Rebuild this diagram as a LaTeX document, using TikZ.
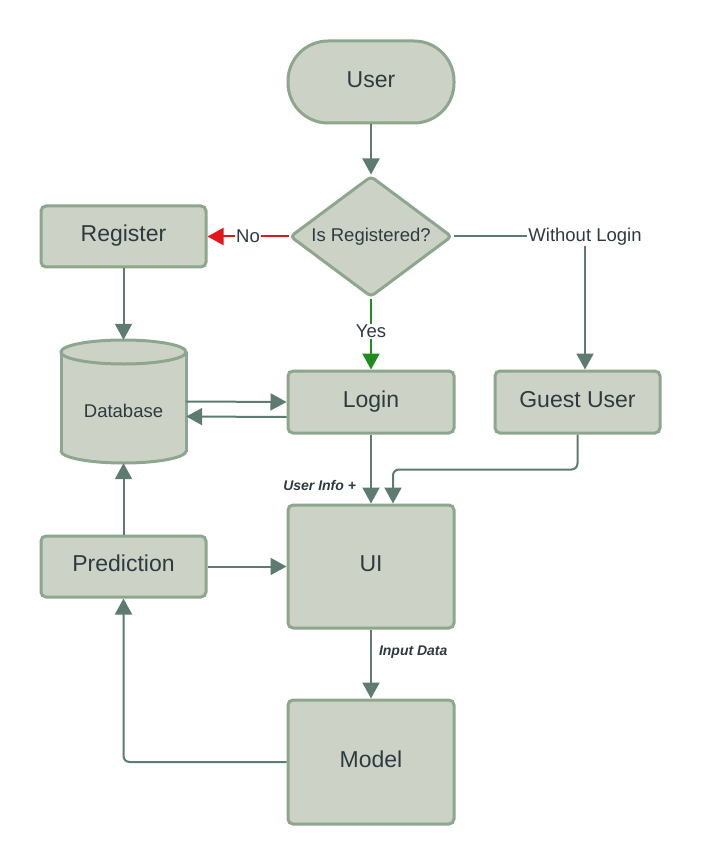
\documentclass[tikz,border=0pt]{standalone}
\usepackage{fontspec}
\setmainfont{Liberation Sans}
\usetikzlibrary{arrows.meta,shapes.geometric,calc}
\definecolor{boxfill}{HTML}{CCD3C6}
\definecolor{boxline}{HTML}{8DA68D}
\definecolor{arrowc}{HTML}{5D7B70}
\definecolor{txt}{HTML}{2E3A40}
\definecolor{noRed}{HTML}{E3171B}
\definecolor{yesGreen}{HTML}{1E8C1E}
\tikzset{
 box/.style={draw=boxline, fill=boxfill, line width=3pt, rounded corners=5pt, text=txt, font=\fontsize{23}{27}\selectfont, inner sep=0pt, text height=16.5pt, text depth=6pt},
 conn/.style={draw=arrowc, line width=2pt, -{Triangle[width=17pt,length=16pt]}},
 lbl/.style={fill=white, text=txt, font=\fontsize{18.5}{22}\selectfont, inner sep=1pt},
 ilbl/.style={text=txt, font=\fontsize{14}{17}\selectfont\bfseries\itshape, inner sep=1pt},
}
\begin{document}
\begin{tikzpicture}[x=1pt,y=-1pt]
\useasboundingbox[fill=white] (0,0) rectangle (702,866);
% nodes
\node[box, rounded corners=40pt, minimum width=166pt, minimum height=82pt] (user) at (371,82) {User};
\node[box, diamond, rounded corners=4pt, aspect=1.34, minimum width=162pt, minimum height=121pt, font=\fontsize{18.5}{22}\selectfont, text height=13.3pt, text depth=3pt] (dia) at (371,236.5) {Is Registered?};
\node[box, minimum width=165pt, minimum height=61pt] (reg) at (123.5,236.5) {Register};
\node[box, minimum width=166pt, minimum height=62pt] (login) at (371,402) {Login};
\node[box, minimum width=165pt, minimum height=62pt] (guest) at (577.5,402) {Guest User};
\node[box, minimum width=166pt, minimum height=123pt] (ui) at (371,566.5) {UI};
\node[box, minimum width=165pt, minimum height=61pt] (pred) at (123.5,566.5) {Prediction};
\node[box, minimum width=166pt, minimum height=124pt] (model) at (371,762) {Model};
% database cylinder
\fill[boxfill] (61,352) rectangle (186,451);
\fill[boxfill] (123.5,451) ellipse [x radius=62.5, y radius=12];
\begin{scope}
\clip (40,451) rectangle (210,480);
\draw[boxline, line width=3pt] (123.5,451) ellipse [x radius=62.5, y radius=12];
\end{scope}
\draw[boxline, line width=3pt] (61,352) -- (61,451.5) (186,352) -- (186,451.5);
\draw[boxline, fill=boxfill, line width=3pt] (123.5,352) ellipse [x radius=62.5, y radius=12];
\node[minimum width=125pt, minimum height=123pt, inner sep=0pt] (db) at (123.5,401.5) {};
\node[text=txt, font=\fontsize{18.5}{22}\selectfont, inner sep=0pt, text height=13.3pt, text depth=0pt] (dbtext) at (123.5,411) {Database};
% connectors
\draw[conn] (user) -- (dia);
\draw[conn, draw=noRed] (dia.west) -- node[lbl]{No} (reg.east);
\draw[conn] (dia.east) -| node[lbl, pos=0.5]{Without Login} ([xshift=7.5pt]guest.north);
\draw[conn, draw=yesGreen] (dia.south) -- node[lbl, pos=0.46]{Yes} (login.north);
\draw[conn] (reg.south) -- (db.north);
\draw[conn] (db.east) -- (login.west);
\draw[conn] ([yshift=-15pt]login.west) -- ([yshift=-15pt]db.east);
\draw[conn] (login.south) -- node[ilbl, pos=0.74, anchor=east, xshift=-13pt]{User Info +} (ui.north);
\draw[conn, rounded corners=6pt] (guest.south) -- ++(0,35) -| ([xshift=22pt]ui.north);
\draw[conn] (pred.east) -- (ui.west);
\draw[conn] (pred.north) -- (db.south);
\draw[conn] (ui.south) -- node[ilbl, pos=0.33, anchor=west, xshift=6pt]{Input Data} (model.north);
\draw[conn, rounded corners=6pt] (model.west) -| (pred.south);
\end{tikzpicture}
\end{document}
